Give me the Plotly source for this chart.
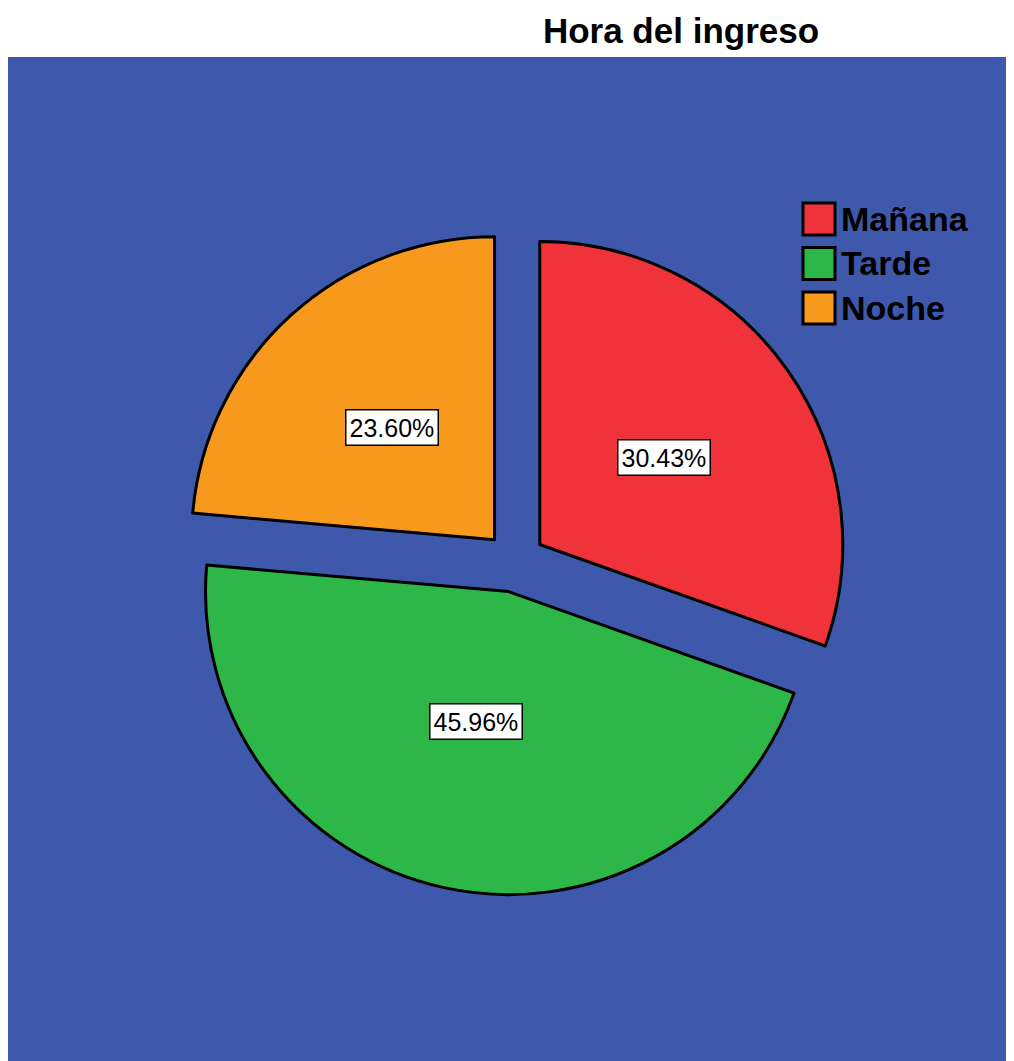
"""
Gráfico de sectores: Hora del ingreso (estilo SPSS).
"""

import math
import plotly.graph_objects as go

# =====================================================================
# DATOS
# =====================================================================
categorias = ["Mañana", "Tarde", "Noche"]
porcentajes = [30.43, 45.96, 23.60]
colores = ["#F0323A", "#2EB749", "#F7991D"]

FONDO = "#3E58AB"
# la página tiene 8 px de margen en el body: el lienzo empieza en (8, 8)
OFF = 8
ANCHO, ALTO = 1006, 1053
MARGEN = dict(l=0, r=0, t=49, b=0)
PULL = 0.1

area_w = ANCHO - MARGEN["l"] - MARGEN["r"]
area_h = ALTO - MARGEN["t"] - MARGEN["b"]


def px_x(sx):
    """Coordenada x de pantalla -> papel."""
    return (sx - OFF - MARGEN["l"]) / area_w


def px_y(sy):
    """Coordenada y de pantalla -> papel."""
    return 1 - (sy - OFF - MARGEN["t"]) / area_h


# dominio del pastel (caja cuadrada centrada en el centro del gráfico)
caja = 666.6
cx, cy = px_x(515), px_y(562)
dom_x = [cx - caja / area_w / 2, cx + caja / area_w / 2]
dom_y = [cy - caja / area_h / 2, cy + caja / area_h / 2]
radio = caja / (2 + 2 * PULL)

fig = go.Figure()
fig.add_trace(go.Pie(
    labels=categorias,
    values=porcentajes,
    sort=False,
    direction="clockwise",
    rotation=0,
    pull=PULL,
    marker=dict(colors=colores, line=dict(color="black", width=3)),
    textinfo="none",
    hoverinfo="label+percent",
    domain=dict(x=dom_x, y=dom_y),
    showlegend=False,
))

# etiquetas de porcentaje con recuadro blanco, sobre la bisectriz de cada sector
total = sum(porcentajes)
acum = 0
anotaciones = []
for v in porcentajes:
    ang = math.radians(360 * (acum + v / 2) / total)
    acum += v
    d = radio * (PULL + 0.5)
    anotaciones.append(dict(
        x=cx + d * math.sin(ang) / area_w,
        y=cy + d * math.cos(ang) / area_h,
        xref="paper", yref="paper",
        text=f"{v:.2f}%",
        showarrow=False,
        font=dict(family="Arial, Liberation Sans", size=25, color="black"),
        bgcolor="white",
        bordercolor="black",
        borderwidth=1.5,
        borderpad=3,
    ))

# leyenda manual (cuadros grandes como en SPSS)
formas = [dict(type="rect", xref="paper", yref="paper", x0=0, x1=1, y0=0, y1=1,
               fillcolor=FONDO, line=dict(width=0), layer="below")]
for i, (cat, col) in enumerate(zip(categorias, colores)):
    top = 203 + i * 44.5
    y0, y1 = px_y(top + 32), px_y(top)
    formas.append(dict(
        type="rect", xref="paper", yref="paper",
        x0=px_x(803), x1=px_x(835), y0=y0, y1=y1,
        fillcolor=col, line=dict(color="black", width=3),
    ))
    anotaciones.append(dict(
        x=px_x(839), y=(y0 + y1) / 2,
        xref="paper", yref="paper", xanchor="left", yanchor="middle",
        text=f"<b>{cat}</b>", showarrow=False,
        font=dict(family="Arial, Liberation Sans", size=34, color="black"),
    ))

fig.update_layout(
    width=ANCHO,
    height=ALTO,
    margin=MARGEN,
    paper_bgcolor="white",
    plot_bgcolor=FONDO,
    title=dict(
        text="<b>Hora del ingreso</b>",
        x=px_x(681), xref="paper", xanchor="center",
        y=1 - (31 - OFF) / ALTO, yref="container", yanchor="middle",
        font=dict(family="Arial, Liberation Sans", size=35, color="black"),
    ),
    shapes=formas,
    annotations=anotaciones,
)

fig.write_html("out.html")
